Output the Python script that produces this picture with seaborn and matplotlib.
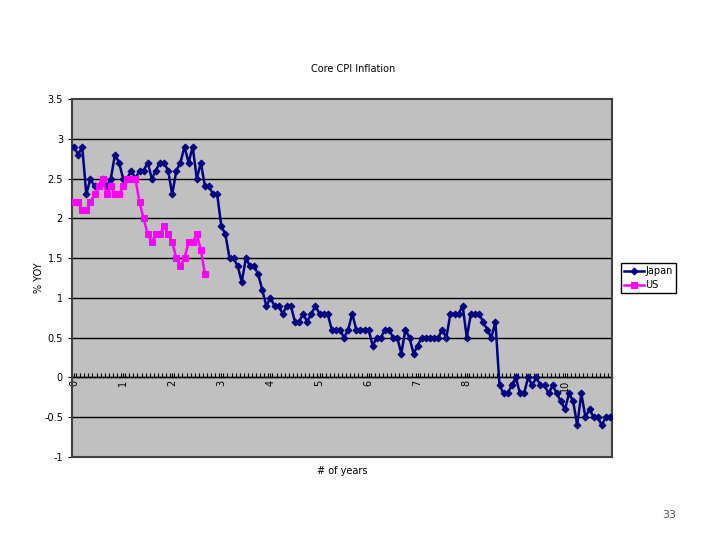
import matplotlib
matplotlib.use('Agg')
import matplotlib.pyplot as plt
import numpy as np
import pandas as pd
import seaborn as sns

# monthly core CPI, % YOY
japan = [2.9, 2.8, 2.9, 2.3, 2.5, 2.4, 2.4, 2.5, 2.4, 2.5, 2.8, 2.7,
         2.5, 2.5, 2.6, 2.5, 2.6, 2.6, 2.7, 2.5, 2.6, 2.7, 2.7, 2.6,
         2.3, 2.6, 2.7, 2.9, 2.7, 2.9, 2.5, 2.7, 2.4, 2.4, 2.3, 2.3,
         1.9, 1.8, 1.5, 1.5, 1.4, 1.2, 1.5, 1.4, 1.4, 1.3, 1.1, 0.9,
         1.0, 0.9, 0.9, 0.8, 0.9, 0.9, 0.7, 0.7, 0.8, 0.7, 0.8, 0.9,
         0.8, 0.8, 0.8, 0.6, 0.6, 0.6, 0.5, 0.6, 0.8, 0.6, 0.6, 0.6,
         0.6, 0.4, 0.5, 0.5, 0.6, 0.6, 0.5, 0.5, 0.3, 0.6, 0.5, 0.3,
         0.4, 0.5, 0.5, 0.5, 0.5, 0.5, 0.6, 0.5, 0.8, 0.8, 0.8, 0.9,
         0.5, 0.8, 0.8, 0.8, 0.7, 0.6, 0.5, 0.7, -0.1, -0.2, -0.2, -0.1,
         0.0, -0.2, -0.2, 0.0, -0.1, 0.0, -0.1, -0.1, -0.2, -0.1, -0.2, -0.3,
         -0.4, -0.2, -0.3, -0.6, -0.2, -0.5, -0.4, -0.5, -0.5, -0.6, -0.5, -0.5]
us = [2.2, 2.2, 2.1, 2.1, 2.2, 2.3, 2.4, 2.5, 2.3, 2.4, 2.3, 2.3,
      2.4, 2.5, 2.5, 2.5, 2.2, 2.0, 1.8, 1.7, 1.8, 1.8, 1.9, 1.8,
      1.7, 1.5, 1.4, 1.5, 1.7, 1.7, 1.8, 1.6, 1.3]
year_labels = [str(y) for y in range(11)]
y_ticks = [-1, -0.5, 0, 0.5, 1, 1.5, 2, 2.5, 3, 3.5]

df_jp = pd.DataFrame({'month': np.arange(len(japan)), 'cpi': japan})
df_us = pd.DataFrame({'month': np.arange(len(us)), 'cpi': us})

plt.rcParams['font.family'] = ['DejaVu Sans']
fig = plt.figure(figsize=(7.2, 5.4), dpi=100)
ax = fig.add_axes([0.1, 0.1537, 0.75, 0.663])
ax.set_facecolor('#C0C0C0')

sns.lineplot(data=df_jp, x='month', y='cpi', ax=ax, color='#000080', lw=1.8,
             marker='D', markersize=3.5, markeredgecolor='#000080', label='Japan', zorder=5)
sns.lineplot(data=df_us, x='month', y='cpi', ax=ax, color='#FF00FF', lw=1.8,
             marker='s', markersize=4.5, markeredgecolor='#FF00FF', label='US', zorder=5)

ax.set_xlim(-0.5, len(japan) - 0.5)
ax.set_ylim(-1, 3.5)
ax.set_yticks(y_ticks)
ax.set_yticklabels(['%g' % v for v in y_ticks])
ax.tick_params(axis='y', labelsize=7, length=3, direction='out')
for v in y_ticks[1:-1]:
    ax.axhline(v, color='black', lw=1, zorder=1)
ax.set_xticks([])
ax.set_xlabel('')
ax.set_ylabel('% YOY', fontsize=7, labelpad=0)
for s in ax.spines.values():
    s.set_color('#404040')
    s.set_linewidth(1.5)

# category axis crosses at y = 0
sec = ax.secondary_xaxis(1 / 4.5)
sec.set_xticks(np.arange(0, len(japan), 12))
sec.set_xticklabels(year_labels, rotation=90, fontsize=7)
sec.set_xticks(np.arange(len(japan)) + 0.5, minor=True)
sec.tick_params(which='both', direction='in', length=3, width=0.8, pad=2)
sec.spines['bottom'].set_linewidth(1)

fig.text(0.49, 0.873, 'Core CPI Inflation', ha='center', va='center', fontsize=7)
fig.text(0.475, 0.127, '# of years', ha='center', va='center', fontsize=7)
fig.text(0.93, 0.046, '33', ha='center', va='center', fontsize=8, color='#555555')

ax.legend(loc='center left', bbox_to_anchor=(1.008, 0.5), fontsize=7, frameon=True,
          fancybox=False, edgecolor='black', framealpha=1, handlelength=2.0,
          borderpad=0.3, labelspacing=0.4, handletextpad=0.2)

fig.savefig('out.png', dpi=100)
